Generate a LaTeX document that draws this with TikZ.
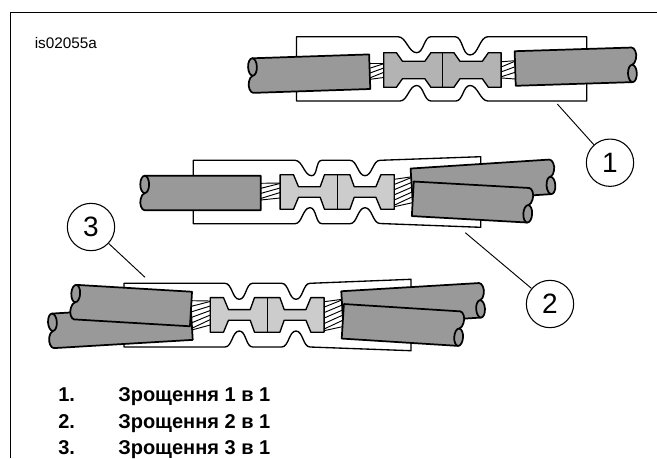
\documentclass[tikz,border=0pt]{standalone}
\usepackage{fontspec}
\setmainfont{Liberation Sans}
\tikzset{
  sc/.style={out=0,in=180,looseness=0.85},
  frameline/.style={line width=0.95pt,black},
  sleeveline/.style={line width=1pt,black,fill=white,line join=round},
  cableline/.style={line width=1.3pt,black,fill=cablegray,line join=round},
  termline/.style={line width=1pt,black,line join=round},
  strandline/.style={line width=0.7pt,black},
  callout/.style={draw,circle,line width=0.8pt,minimum size=35.5pt,inner sep=0pt,font=\fontsize{21}{21}\selectfont},
  leader/.style={line width=0.7pt,black},
  listtext/.style={anchor=base west,inner sep=0pt,font=\bfseries\fontsize{15}{16}\selectfont},
}
\definecolor{cablegray}{HTML}{999999}
\definecolor{termdark}{HTML}{B3B3B3}
\definecolor{termlight}{HTML}{CCCCCC}
% cut x, cut y, rotation, length
\newcommand{\cabl}[4]{%
  \begin{scope}[shift={(#1,#2)},rotate=#3]
    \draw[cableline] (0,-17.3) -- (#4,-17.3)
      .. controls (#4+3,-17.3) and (#4+5.5,-11) .. (#4+4,-6)
      .. controls (#4+3.5,-3) and (#4+2,-1) .. (#4,0) -- (#4,17.3) -- (0,17.3) -- cycle;
    \draw[cableline] (#4,8.6) ellipse [x radius=4.4,y radius=8.7];
  \end{scope}}
% x1,top1,bot1,x2,top2,bot2,n
\newcommand{\strandset}[7]{%
  \draw[strandline] (#1,#2) -- (#4,#5);
  \draw[strandline] (#1,#3) -- (#4,#6);
  \foreach \i in {1,...,#7}{
    \draw[strandline] (#1,{#2+(#3-#2)*(\i)/(#7+0.3)}) -- (#4,{#5+(#6-#5)*(\i-0.9)/(#7+0.3)});
  }}
% fill, centre x, centre y, half narrow, half widths
\newcommand{\termi}[9]{%
  \draw[termline,fill=#1]
    (#2-#5,#3-17.3) -- (#2-#6,#3-17.3) -- (#2-#7,#3-#4) -- (#2-#8,#3-#4) -- (#2-#9,#3-17.3)
    -- (#2+#9,#3-17.3) -- (#2+#8,#3-#4) -- (#2+#7,#3-#4) -- (#2+#6,#3-17.3) -- (#2+#5,#3-17.3)
    -- (#2+#5,#3+17.3) -- (#2+#6,#3+17.3) -- (#2+#7,#3+#4) -- (#2+#8,#3+#4) -- (#2+#9,#3+17.3)
    -- (#2-#9,#3+17.3) -- (#2-#8,#3+#4) -- (#2-#7,#3+#4) -- (#2-#6,#3+17.3) -- (#2-#5,#3+17.3) -- cycle;
  \draw[termline] (#2,#3-17.3) -- (#2,#3+17.3);}
\begin{document}
\begin{tikzpicture}[x=0.75pt,y=-0.75pt]
\useasboundingbox (0,0) rectangle (657,458);
\draw[frameline] (10.5,458) -- (10.5,12.5) -- (657,12.5);
\node[anchor=base west,inner sep=0pt,font=\fontsize{11.5}{12}\selectfont] (tag) at (34.5,48) {is02055a};

% --- Row 1
\draw[sleeveline] (296.5,36.7) -- (398,36.7) to[sc] (416.7,52.7) to[sc] (431,36.7) -- (455,36.7)
  to[sc] (470,55) to[sc] (488,36.7) -- (586.7,36.7) -- (586.7,101) -- (488,101)
  to[out=180,in=0,looseness=0.85] (470,85.5) to[out=180,in=0,looseness=0.85] (456,101) -- (431,101)
  to[out=180,in=0,looseness=0.85] (416.7,85.5) to[out=180,in=0,looseness=0.85] (400,101) -- (296.5,101) -- cycle;
\strandset{370}{63.3}{79.3}{383.7}{63.3}{77.5}{3}
\strandset{502}{61.7}{78}{515}{60.7}{79}{3}
\termi{termdark}{442.4}{70}{8.8}{58.7}{46}{40}{17.5}{11.5}
\cabl{369.7}{71.7}{181.9}{117}
\cabl{515.2}{68.5}{1.8}{117}

% --- Row 2
\draw[sleeveline] (193.3,160.3) -- (295,160.3) to[sc] (311.7,175.7) to[sc] (321.7,160.3) -- (350,160.3)
  to[sc] (365,175.7) to[sc] (380,160.3) -- (480.7,156.7) -- (480.7,227.3) -- (380,223.5)
  to[out=180,in=0,looseness=0.85] (365,207.7) to[out=180,in=0,looseness=0.85] (350,223.7) -- (322,223.7)
  to[out=180,in=0,looseness=0.85] (310,207.7) to[out=180,in=0,looseness=0.85] (295,223.7) -- (193.3,223.7) -- cycle;
\strandset{260.7}{183.3}{200}{280}{183}{198}{3}
\strandset{394.3}{179.3}{206.7}{412.3}{176.7}{202.7}{5}
\termi{termlight}{337.2}{192}{5.3}{57.1}{43.7}{38.7}{17}{12.7}
\cabl{411.7}{185.8}{3.7}{139}
\cabl{412.8}{198.8}{-3.2}{115.6}
\cabl{260.7}{193}{180}{116}

% --- Row 3
\draw[sleeveline] (124,283.3) -- (225,283.3) to[sc] (239.3,299.3) to[sc] (252.7,283.3) -- (281.7,283.3)
  to[sc] (296,299.3) to[sc] (310,283.3) -- (411,279.3) -- (411,350.7) -- (310,347)
  to[out=180,in=0,looseness=0.85] (296,331) to[out=180,in=0,looseness=0.85] (281.7,347) -- (252.7,347)
  to[out=180,in=0,looseness=0.85] (239.3,331) to[out=180,in=0,looseness=0.85] (225,347) -- (124,347) -- cycle;
\strandset{191.7}{300.7}{330}{210.3}{301}{325}{5}
\strandset{324}{301.7}{330.7}{342.3}{299.3}{326.7}{5}
\termi{termlight}{267.2}{314.9}{5.3}{56.9}{43.7}{38.7}{17}{12.7}
\cabl{191.7}{322.6}{183.4}{139}
\cabl{191}{309}{176.6}{116}
\cabl{342.3}{308.5}{3.4}{138}
\cabl{342.8}{321.3}{-3.6}{116.6}

% --- Callouts
\node[callout] (n1) at (610,162.7) {1};
\node[callout] (n2) at (550,304) {2};
\node[callout] (n3) at (91,227) {3};
\coordinate (a1) at (557.3,104);
\coordinate (a2) at (465.3,232.7);
\coordinate (a3) at (145,277.3);
\draw[leader] (a1) -- (n1);
\draw[leader] (a2) -- (n2);
\draw[leader] (a3) -- (n3);

% --- List
\node[listtext] (l1n) at (58,401.5) {1.};
\node[listtext] (l1t) at (118,401.5) {Зрощення 1 в 1};
\node[listtext] (l2n) at (58,428) {2.};
\node[listtext] (l2t) at (118,428) {Зрощення 2 в 1};
\node[listtext] (l3n) at (58,454.5) {3.};
\node[listtext] (l3t) at (118,454.5) {Зрощення 3 в 1};
\end{tikzpicture}
\end{document}
